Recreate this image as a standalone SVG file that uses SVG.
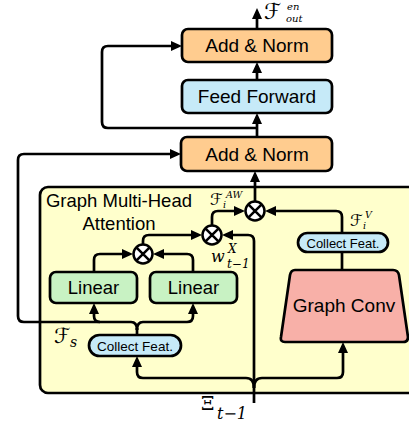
<svg xmlns="http://www.w3.org/2000/svg" width="409" height="425" viewBox="0 0 409 425">
  <defs>
    <marker id="arr" markerUnits="userSpaceOnUse" markerWidth="11" markerHeight="10" refX="7" refY="5" orient="auto">
      <path d="M0,0 L11,5 L0,10 z" fill="#000"/>
    </marker>
    <style>
      .box { stroke: #000; stroke-width: 2.7; }
      .norm { fill: #FFCC8F; }
      .ff { fill: #C6EAF8; }
      .lin { fill: #C8F2C3; }
      .gc { fill: #F8B0A8; }
      .lbl { font-family: "Liberation Sans", Arial, sans-serif; fill: #000; text-anchor: middle; }
      .wire { fill: none; stroke: #000; stroke-width: 2.7; }
      .arrow { marker-end: url(#arr); }
      .math { font-family: "DejaVu Serif", "DejaVu Sans", serif; font-style: italic; fill: #000; }
      .op { fill: #fff; stroke: #000; stroke-width: 2.5; }
    </style>
  </defs>
  <rect width="409" height="425" fill="#fff"/>

  <!-- attention container -->
  <g id="attention">
    <rect x="40" y="187" width="385" height="206" rx="8" fill="#FFFFCC" stroke="#000" stroke-width="2.7"/>
    <text class="lbl" x="119" y="207" font-size="18.5">Graph Multi-Head</text>
    <text class="lbl" x="119" y="230" font-size="18.5">Attention</text>
  </g>

  <!-- connectors -->
  <g id="connectors">
    <path class="wire arrow" d="M257,29 V12"/>
    <path class="wire arrow" d="M257,80 V66"/>
    <path class="wire arrow" d="M257,137 V117"/>
    <path class="wire arrow" d="M257,128 H108 Q102,128 102,122 V52 Q102,46 108,46 H178"/>
    <path class="wire arrow" d="M255,201 V175"/>
    <path class="wire arrow" d="M212,225 V217 Q212,211 218,211 H241"/>
    <path class="wire arrow" d="M342,233 V217 Q342,211 336,211 H269"/>
    <path class="wire arrow" d="M143,244 V241 Q143,235 149,235 H198"/>
    <path class="wire arrow" d="M254,403 V241 Q254,235 248,235 H226"/>
    <path class="wire arrow" d="M94,272 V260 Q94,254 100,254 H129"/>
    <path class="wire arrow" d="M193,272 V260 Q193,254 187,254 H157"/>
    <path class="wire" d="M342,252 V271"/>
    <path class="wire" d="M137,335 V328"/>
    <path class="wire arrow" d="M137,330 Q137,322 131,322 H100 Q94,322 94,316 V307"/>
    <path class="wire arrow" d="M137,330 Q137,322 143,322 H187 Q193,322 193,316 V307"/>
    <path class="wire arrow" d="M100,322 H24 Q18,322 18,316 V160 Q18,154 24,154 H177"/>
    <path class="wire arrow" d="M254,388 Q254,378 246,378 H143 Q137,378 137,372 V360"/>
    <path class="wire arrow" d="M254,388 Q254,378 262,378 H337 Q343,378 343,372 V346"/>
  </g>

  <g id="add-norm-top">
    <rect class="box norm" x="182" y="29" width="150" height="33" rx="6"/>
    <text class="lbl" x="257" y="52" font-size="19">Add &amp; Norm</text>
  </g>
  <g id="feed-forward">
    <rect class="box ff" x="182" y="80" width="150" height="33" rx="6"/>
    <text class="lbl" x="257" y="103" font-size="19">Feed Forward</text>
  </g>
  <g id="add-norm-bottom">
    <rect class="box norm" x="181" y="137" width="151" height="34" rx="6"/>
    <text class="lbl" x="257" y="161" font-size="19">Add &amp; Norm</text>
  </g>

  <g id="linear-left">
    <rect class="box lin" x="50" y="272" width="87" height="31" rx="6"/>
    <text class="lbl" x="93.5" y="294" font-size="18.5">Linear</text>
  </g>
  <g id="linear-right">
    <rect class="box lin" x="150" y="272" width="87" height="31" rx="6"/>
    <text class="lbl" x="193.5" y="294" font-size="18.5">Linear</text>
  </g>

  <g id="graph-conv">
    <path class="box gc" d="M295,270 H393 Q398,270 399,275 L408,337 Q408,342 403,342 H285 Q280,342 281,337 L290,275 Q291,270 295,270 z"/>
    <text class="lbl" x="344" y="312" font-size="19">Graph Conv</text>
  </g>

  <g id="collect-feat-right">
    <rect class="box ff" x="298" y="233" width="90" height="19" rx="9.5"/>
    <text class="lbl" x="343" y="247.5" font-size="13">Collect Feat.</text>
  </g>
  <g id="collect-feat-bottom">
    <rect class="box ff" x="89" y="335" width="92" height="21" rx="10.5"/>
    <text class="lbl" x="135" y="350.5" font-size="13.5">Collect Feat.</text>
  </g>

  <!-- multiplication nodes -->
  <g id="mul-top">
    <circle class="op" cx="255" cy="211" r="9.5"/>
    <path d="M248.3,204.3 L261.7,217.7 M261.7,204.3 L248.3,217.7" stroke="#000" stroke-width="2.5"/>
  </g>
  <g id="mul-mid">
    <circle class="op" cx="212" cy="235" r="9.5"/>
    <path d="M205.3,228.3 L218.7,241.7 M218.7,228.3 L205.3,241.7" stroke="#000" stroke-width="2.5"/>
  </g>
  <g id="mul-low">
    <circle class="op" cx="143" cy="254" r="9.5"/>
    <path d="M136.3,247.3 L149.7,260.7 M149.7,247.3 L136.3,260.7" stroke="#000" stroke-width="2.5"/>
  </g>

  <!-- symbols -->
  <g id="labels">
    <text class="math" x="264" y="19" font-size="22">ℱ</text>
    <text class="math" x="287" y="10" font-size="10">en</text>
    <text class="math" x="286" y="22" font-size="10">out</text>

    <text class="math" x="210" y="205" font-size="16">ℱ</text>
    <text class="math" x="226" y="198" font-size="9.5">AW</text>
    <text class="math" x="223" y="208" font-size="9.5">i</text>

    <text class="math" x="211" y="262" font-size="16">w</text>
    <text class="math" x="228" y="253" font-size="12">X</text>
    <text class="math" x="227" y="268" font-size="12">t−1</text>

    <text class="math" x="350" y="226" font-size="16">ℱ</text>
    <text class="math" x="365" y="218" font-size="9.5">V</text>
    <text class="math" x="363" y="229" font-size="9.5">i</text>

    <text class="math" x="54" y="343" font-size="21">ℱ</text>
    <text class="math" x="70" y="347" font-size="14">s</text>

    <text x="201" y="410" font-size="19" font-family="DejaVu Serif, serif">Ξ</text>
    <text class="math" x="217" y="419" font-size="16">t−1</text>
  </g>
</svg>
